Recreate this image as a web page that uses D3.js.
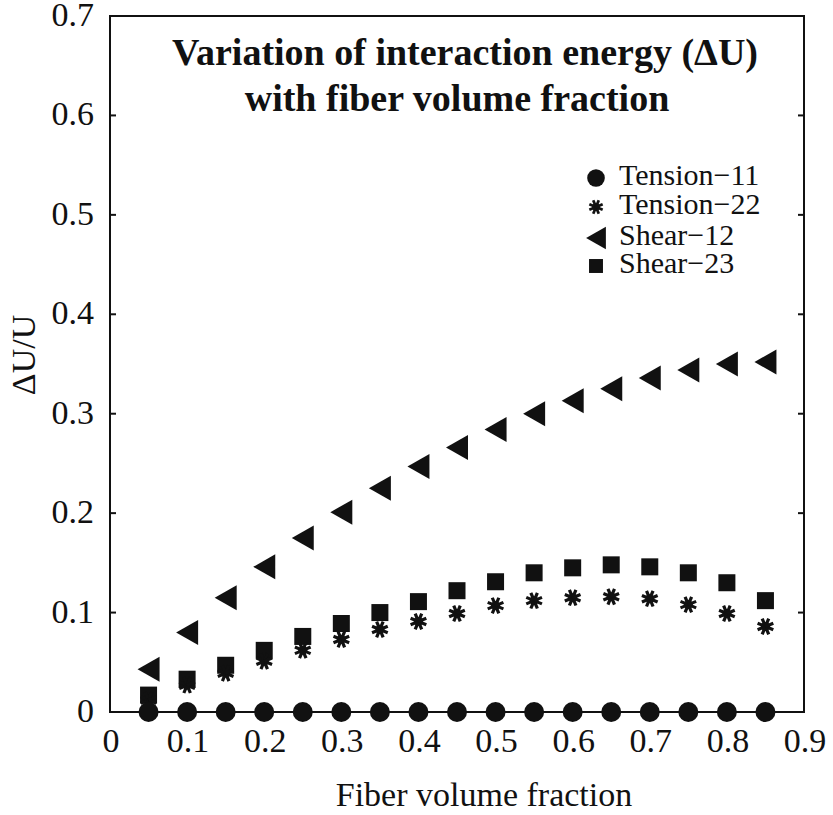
<!DOCTYPE html>
<meta charset="utf-8">
<style>
body { margin: 0; background: #fff; }
text { font-family: "Liberation Serif", "Times New Roman", serif; fill: #111; }
</style>
<body>
<script src="https://d3js.org/d3.v7.min.js"></script>
<script>

var fraction = [0.05, 0.1, 0.15, 0.2, 0.25, 0.3, 0.35, 0.4, 0.45, 0.5, 0.55, 0.6, 0.65, 0.7, 0.75, 0.8, 0.85];
var tension11 = [0, 0, 0, 0, 0, 0, 0, 0, 0, 0, 0, 0, 0, 0, 0, 0, 0];
var tension22 = [0.012, 0.027, 0.039, 0.051, 0.062, 0.073, 0.083, 0.091, 0.099, 0.107, 0.112, 0.115, 0.116, 0.114, 0.108, 0.099, 0.086];
var shear12 = [0.043, 0.080, 0.115, 0.146, 0.175, 0.201, 0.225, 0.247, 0.266, 0.284, 0.300, 0.313, 0.325, 0.336, 0.344, 0.350, 0.352];
var shear23 = [0.017, 0.033, 0.047, 0.062, 0.076, 0.089, 0.100, 0.111, 0.122, 0.131, 0.140, 0.145, 0.148, 0.146, 0.140, 0.130, 0.112];
var xTicks = [0, 0.1, 0.2, 0.3, 0.4, 0.5, 0.6, 0.7, 0.8, 0.9];
var yTicks = [0, 0.1, 0.2, 0.3, 0.4, 0.5, 0.6, 0.7];
var seriesNames = ["Tension\u221211", "Tension\u221222", "Shear\u221212", "Shear\u221223"];

var margin = {top: 16, right: 29, bottom: 103, left: 110},
    width = 833 - margin.left - margin.right,
    height = 815 - margin.top - margin.bottom;

var svg = d3.select("body").append("svg")
    .attr("width", 833)
    .attr("height", 815);

var g = svg.append("g")
    .attr("transform", "translate(" + margin.left + "," + margin.top + ")");

var x = d3.scaleLinear().domain([0, 0.9]).range([0, width]);
var y = d3.scaleLinear().domain([0, 0.7]).range([height, 0]);

// frame
g.append("rect")
    .attr("width", width)
    .attr("height", height)
    .attr("fill", "none")
    .attr("stroke", "#111")
    .attr("stroke-width", 2);

// y ticks, inward on both sides
g.selectAll(".ytl").data(yTicks.slice(1, -1)).enter().append("line")
    .attr("x1", 0).attr("x2", 6)
    .attr("y1", function(d) { return y(d); }).attr("y2", function(d) { return y(d); })
    .attr("stroke", "#111").attr("stroke-width", 2);
g.selectAll(".ytr").data(yTicks.slice(1, -1)).enter().append("line")
    .attr("x1", width).attr("x2", width - 6)
    .attr("y1", function(d) { return y(d); }).attr("y2", function(d) { return y(d); })
    .attr("stroke", "#111").attr("stroke-width", 2);

g.selectAll(".ylab").data(yTicks).enter().append("text")
    .attr("x", -16)
    .attr("y", function(d) { return y(d) + 10; })
    .attr("text-anchor", "end")
    .style("font-size", "34px")
    .text(function(d) { return d === 0 ? "0" : d3.format(".1f")(d); });

g.selectAll(".xlab").data(xTicks).enter().append("text")
    .attr("x", function(d) { return x(d) + 1; })
    .attr("y", height + 40)
    .attr("text-anchor", "middle")
    .style("font-size", "34px")
    .text(function(d) { return d === 0 ? "0" : d3.format(".1f")(d); });

// axis titles
svg.append("text")
    .attr("x", 484)
    .attr("y", 806)
    .attr("text-anchor", "middle")
    .style("font-size", "34px")
    .text("Fiber volume fraction");

svg.append("text")
    .attr("transform", "translate(35,355) rotate(-90)")
    .attr("text-anchor", "middle")
    .style("font-size", "34px")
    .text("\u0394U/U");

// title
var title = svg.append("text")
    .attr("text-anchor", "middle")
    .style("font-size", "38px")
    .style("font-weight", "bold");
title.append("tspan").attr("x", 465).attr("y", 65).text("Variation of interaction energy (\u0394U)");
title.append("tspan").attr("x", 457).attr("y", 111).text("with fiber volume fraction");

// marker drawers
function circle(sel) {
  sel.append("circle").attr("r", 10).attr("fill", "#111");
}
function square(sel) {
  sel.append("rect").attr("x", -8.5).attr("y", -8.5).attr("width", 17).attr("height", 17).attr("fill", "#111");
}
function triangle(sel) {
  sel.append("path").attr("d", "M-11,0L11,-12.5L11,12.5Z").attr("fill", "#111");
}
function asterisk(sel) {
  var a = sel.append("g");
  a.append("circle").attr("r", 4.5).attr("fill", "#111");
  a.selectAll("line").data(d3.range(8)).enter().append("line")
      .attr("x1", 0).attr("y1", 0)
      .attr("x2", function(k) { return 8.5 * Math.cos(k * Math.PI / 4 + Math.PI / 8); })
      .attr("y2", function(k) { return 8.5 * Math.sin(k * Math.PI / 4 + Math.PI / 8); })
      .attr("stroke", "#111").attr("stroke-width", 3.2);
}

var series = [
  {values: tension11, draw: circle},
  {values: tension22, draw: asterisk},
  {values: shear12, draw: triangle},
  {values: shear23, draw: square}
];

// draw order: shear-23 and tension-22 first, circles on top
[3, 1, 2, 0].forEach(function(si) {
  var s = series[si];
  var pts = g.append("g").selectAll("g").data(fraction.map(function(f, i) { return [f, s.values[i]]; }))
      .enter().append("g")
      .attr("transform", function(d) { return "translate(" + x(d[0]) + "," + y(d[1]) + ")"; });
  s.draw(pts);
});

// legend
var legendY = [178, 207, 238, 266];
var legend = svg.append("g");
seriesNames.forEach(function(name, i) {
  var row = legend.append("g").attr("transform", "translate(596," + legendY[i] + ")");
  var sym = row.append("g").attr("transform", "scale(" + [0.88, 0.85, 0.9, 0.82][i] + ")");
  series[i].draw(sym);
  row.append("text")
      .attr("x", 23)
      .attr("y", 7)
      .style("font-size", "30px")
      .text(name);
});

</script>
</body>
